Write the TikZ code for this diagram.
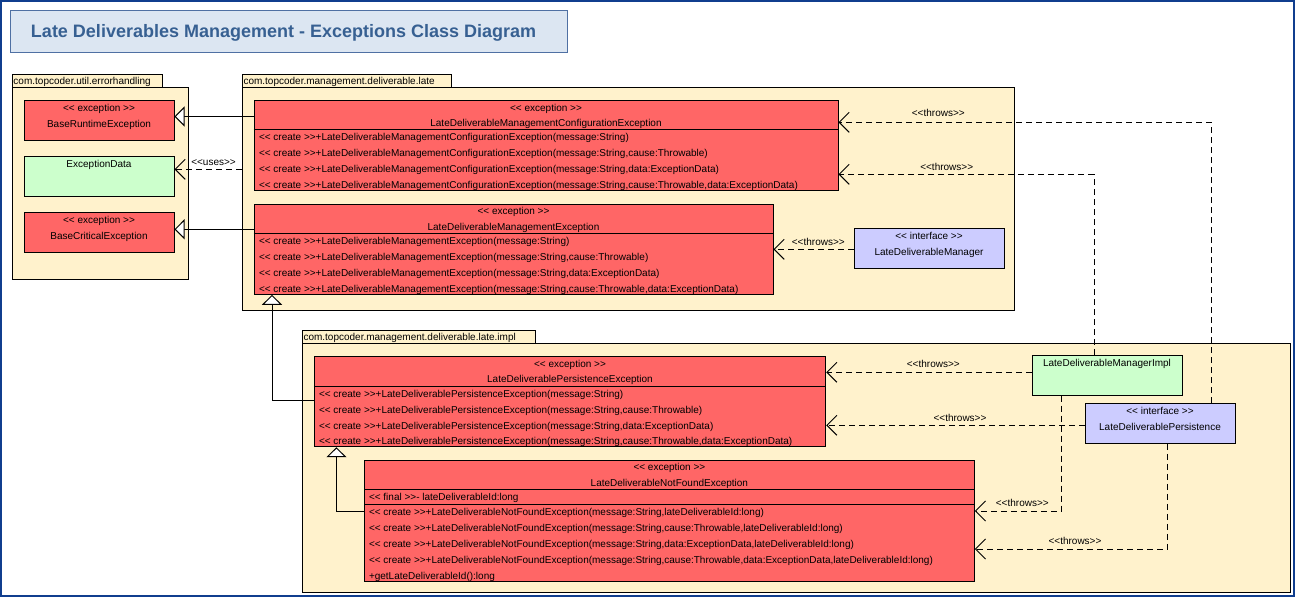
\documentclass[tikz,border=0pt]{standalone}
\usepackage{fontspec}
\setmainfont{Liberation Sans}[Ligatures=TeXOff]
\usetikzlibrary{arrows.meta,fit}

\definecolor{frameblue}{RGB}{16,62,142}
\definecolor{titlefill}{RGB}{220,230,242}
\definecolor{titledraw}{RGB}{79,112,163}
\definecolor{titletext}{RGB}{55,96,146}
\definecolor{pkgfill}{RGB}{255,242,204}
\definecolor{excfill}{RGB}{255,102,102}
\definecolor{clsfill}{RGB}{204,255,204}
\definecolor{ifcfill}{RGB}{204,204,255}

\newcommand{\umlsize}{\fontsize{7.5}{9}\selectfont}

\tikzset{every picture/.style={line width=0.75pt}}
\tikzset{
  pkg/.style={draw, fill=pkgfill, inner sep=0pt},
  exc/.style={draw, fill=excfill, inner sep=0pt},
  cls/.style={draw, fill=clsfill, inner sep=0pt},
  ifc/.style={draw, fill=ifcfill, inner sep=0pt},
  txt/.style={inner sep=0pt, font=\umlsize, text height=5.4pt, text depth=0pt},
  mth/.style={txt, anchor=west},
  lbl/.style={txt},
  dep/.style={dash pattern=on 4.5pt off 3pt, -{Straight Barb[length=7.5pt,width=15pt]}},
  gen/.style={-{Triangle[open,length=7.5pt,width=15pt,fill=white]}},
}

\begin{document}
\begin{tikzpicture}[x=0.75pt,y=0.75pt,yscale=-1]
\useasboundingbox (0,0) rectangle (1295,597);

%Frame
\draw [color=frameblue, line width=1.5pt] (1,1) rectangle (1294,596);

%Title
\node [draw=titledraw, fill=titlefill, inner sep=0pt, fit={(10,10) (567,52)}] (titleBox) {};
\node [anchor=west, inner sep=0pt, text height=9.7pt, text depth=0pt, text=titletext, font=\fontsize{13.5}{16}\selectfont\bfseries] (titleTxt) at (30.5,31) {Late Deliverables Management - Exceptions Class Diagram};

%Packages
\node [pkg, fit={(12,74) (162,87)}] (errTab) {};
\node [pkg, fit={(12,87) (188,279)}] (err) {};
\node [mth] (errLbl) at (13,80.5) {com.topcoder.util.errorhandling};
\node [pkg, fit={(242,74) (451,87)}] (lateTab) {};
\node [pkg, fit={(242,87) (1014,310)}] (late) {};
\node [mth] (lateLbl) at (243,80.5) {com.topcoder.management.deliverable.late};
\node [pkg, fit={(302,330.5) (535,343)}] (implTab) {};
\node [pkg, fit={(302,343) (1290,592)}] (impl) {};
\node [mth] (implLbl) at (303,337) {com.topcoder.management.deliverable.late.impl};

%BaseRuntimeException
\node [exc, fit={(24,100) (174,140)}] (BRE) {};
\node [txt] (BRE-st) at (BRE.north |- 0,107.5) {<< exception >>};
\node [txt] (BRE-nm) at (BRE.north |- 0,124) {BaseRuntimeException};
%ExceptionData
\node [cls, fit={(24,156) (174,196)}] (ED) {};
\node [txt] (ED-nm) at (ED.north |- 0,163.5) {ExceptionData};
%BaseCriticalException
\node [exc, fit={(24,212) (174,252)}] (BCE) {};
\node [txt] (BCE-st) at (BCE.north |- 0,219.5) {<< exception >>};
\node [txt] (BCE-nm) at (BCE.north |- 0,236) {BaseCriticalException};

%LateDeliverableManagementConfigurationException
\node [exc, fit={(254,100.7) (838,190)}] (LDMCE) {};
\draw (LDMCE.west |- 0,129.3) -- (LDMCE.east |- 0,129.3);
\node [txt] (LDMCE-st) at (LDMCE.north |- 0,107.7) {<< exception >>};
\node [txt] (LDMCE-nm) at (LDMCE.north |- 0,123.3) {LateDeliverableManagementConfigurationException};
\node [mth] (LDMCE-m1) at (258.5,137.3) {<< create >>+LateDeliverableManagementConfigurationException(message:String)};
\node [mth] (LDMCE-m2) at (258.5,153.3) {<< create >>+LateDeliverableManagementConfigurationException(message:String,cause:Throwable)};
\node [mth] (LDMCE-m3) at (258.5,169.1) {<< create >>+LateDeliverableManagementConfigurationException(message:String,data:ExceptionData)};
\node [mth] (LDMCE-m4) at (258.5,185) {<< create >>+LateDeliverableManagementConfigurationException(message:String,cause:Throwable,data:ExceptionData)};

%LateDeliverableManagementException
\node [exc, fit={(254,204.3) (773,294.3)}] (LDME) {};
\draw (LDME.west |- 0,233.7) -- (LDME.east |- 0,233.7);
\node [txt] (LDME-st) at (LDME.north |- 0,211) {<< exception >>};
\node [txt] (LDME-nm) at (LDME.north |- 0,227.3) {LateDeliverableManagementException};
\node [mth] (LDME-m1) at (258.5,240.7) {<< create >>+LateDeliverableManagementException(message:String)};
\node [mth] (LDME-m2) at (258.5,256.7) {<< create >>+LateDeliverableManagementException(message:String,cause:Throwable)};
\node [mth] (LDME-m3) at (258.5,272.7) {<< create >>+LateDeliverableManagementException(message:String,data:ExceptionData)};
\node [mth] (LDME-m4) at (258.5,288.7) {<< create >>+LateDeliverableManagementException(message:String,cause:Throwable,data:ExceptionData)};

%LateDeliverableManager
\node [ifc, fit={(854,228.3) (1004,268.3)}] (LDM) {};
\node [txt] (LDM-st) at (LDM.north |- 0,235.7) {<< interface >>};
\node [txt] (LDM-nm) at (LDM.north |- 0,252) {LateDeliverableManager};

%LateDeliverablePersistenceException
\node [exc, fit={(314.3,356.7) (825.7,446.7)}] (LDPE) {};
\draw (LDPE.west |- 0,386) -- (LDPE.east |- 0,386);
\node [txt] (LDPE-st) at (LDPE.north |- 0,364) {<< exception >>};
\node [txt] (LDPE-nm) at (LDPE.north |- 0,379.3) {LateDeliverablePersistenceException};
\node [mth] (LDPE-m1) at (318.5,393.7) {<< create >>+LateDeliverablePersistenceException(message:String)};
\node [mth] (LDPE-m2) at (318.5,409.7) {<< create >>+LateDeliverablePersistenceException(message:String,cause:Throwable)};
\node [mth] (LDPE-m3) at (318.5,425.5) {<< create >>+LateDeliverablePersistenceException(message:String,data:ExceptionData)};
\node [mth] (LDPE-m4) at (318.5,441.3) {<< create >>+LateDeliverablePersistenceException(message:String,cause:Throwable,data:ExceptionData)};

%LateDeliverableManagerImpl
\node [cls, fit={(1032,355) (1182,395)}] (LDMI) {};
\node [txt] (LDMI-nm) at (LDMI.north |- 0,363) {LateDeliverableManagerImpl};
%LateDeliverablePersistence
\node [ifc, fit={(1085,403.3) (1235,443.3)}] (LDP) {};
\node [txt] (LDP-st) at (LDP.north |- 0,410.7) {<< interface >>};
\node [txt] (LDP-nm) at (LDP.north |- 0,426.7) {LateDeliverablePersistence};

%LateDeliverableNotFoundException
\node [exc, fit={(364.5,460.7) (974.3,581.5)}] (LDNFE) {};
\draw (LDNFE.west |- 0,489.3) -- (LDNFE.east |- 0,489.3);
\draw (LDNFE.west |- 0,504) -- (LDNFE.east |- 0,504);
\node [txt] (LDNFE-st) at (LDNFE.north |- 0,467.3) {<< exception >>};
\node [txt] (LDNFE-nm) at (LDNFE.north |- 0,483.3) {LateDeliverableNotFoundException};
\node [mth] (LDNFE-a1) at (368.5,497) {<< final >>- lateDeliverableId:long};
\node [mth] (LDNFE-m1) at (368.5,511.7) {<< create >>+LateDeliverableNotFoundException(message:String,lateDeliverableId:long)};
\node [mth] (LDNFE-m2) at (368.5,527.7) {<< create >>+LateDeliverableNotFoundException(message:String,cause:Throwable,lateDeliverableId:long)};
\node [mth] (LDNFE-m3) at (368.5,543.7) {<< create >>+LateDeliverableNotFoundException(message:String,data:ExceptionData,lateDeliverableId:long)};
\node [mth] (LDNFE-m4) at (368.5,559.7) {<< create >>+LateDeliverableNotFoundException(message:String,cause:Throwable,data:ExceptionData,lateDeliverableId:long)};
\node [mth] (LDNFE-m5) at (368.5,575.7) {+getLateDeliverableId():long};

%Generalizations
\draw [gen] (LDMCE.west |- 0,116.5) -- (BRE.east |- 0,116.5);
\draw [gen] (LDME.west |- 0,229.3) -- (BCE.east |- 0,229.3);
\draw [gen] (LDPE.west |- 0,400.3) -| (LDME.south -| 272,0);
\draw [gen] (LDNFE.west |- 0,511.7) -| (LDPE.south -| 336.4,0);

%Dependencies
\draw [dep] (late.west |- 0,169.3) -- (ED.east |- 0,169.3);
\draw [dep] (LDM.west |- 0,249.3) -- (LDME.east |- 0,249.3);
\draw [dep] (LDP.north -| 1211,0) |- (LDMCE.east |- 0,122.3);
\draw [dep] (LDMI.north -| 1094,0) |- (LDMCE.east |- 0,174.3);
\draw [dep] (LDMI.west |- 0,372.3) -- (LDPE.east |- 0,372.3);
\draw [dep] (LDP.west |- 0,425.3) -- (LDPE.east |- 0,425.3);
\draw [dep] (LDMI.south -| 1061,0) |- (LDNFE.east |- 0,511);
\draw [dep] (LDP.south -| 1167.5,0) |- (LDNFE.east |- 0,549);

% Text Node
\node [lbl] (usesLbl) at (213.5,161.7) {<<uses>>};
\node [lbl] (thrA) at (818.3,241.7) {<<throws>>};
\node [lbl] (thrB) at (938.3,113.3) {<<throws>>};
\node [lbl] (thrC) at (946.7,166.7) {<<throws>>};
\node [lbl] (thrD) at (933.3,364.3) {<<throws>>};
\node [lbl] (thrE) at (960,417.7) {<<throws>>};
\node [lbl] (thrF) at (1022.3,503.3) {<<throws>>};
\node [lbl] (thrG) at (1075,541) {<<throws>>};

\end{tikzpicture}
\end{document}
